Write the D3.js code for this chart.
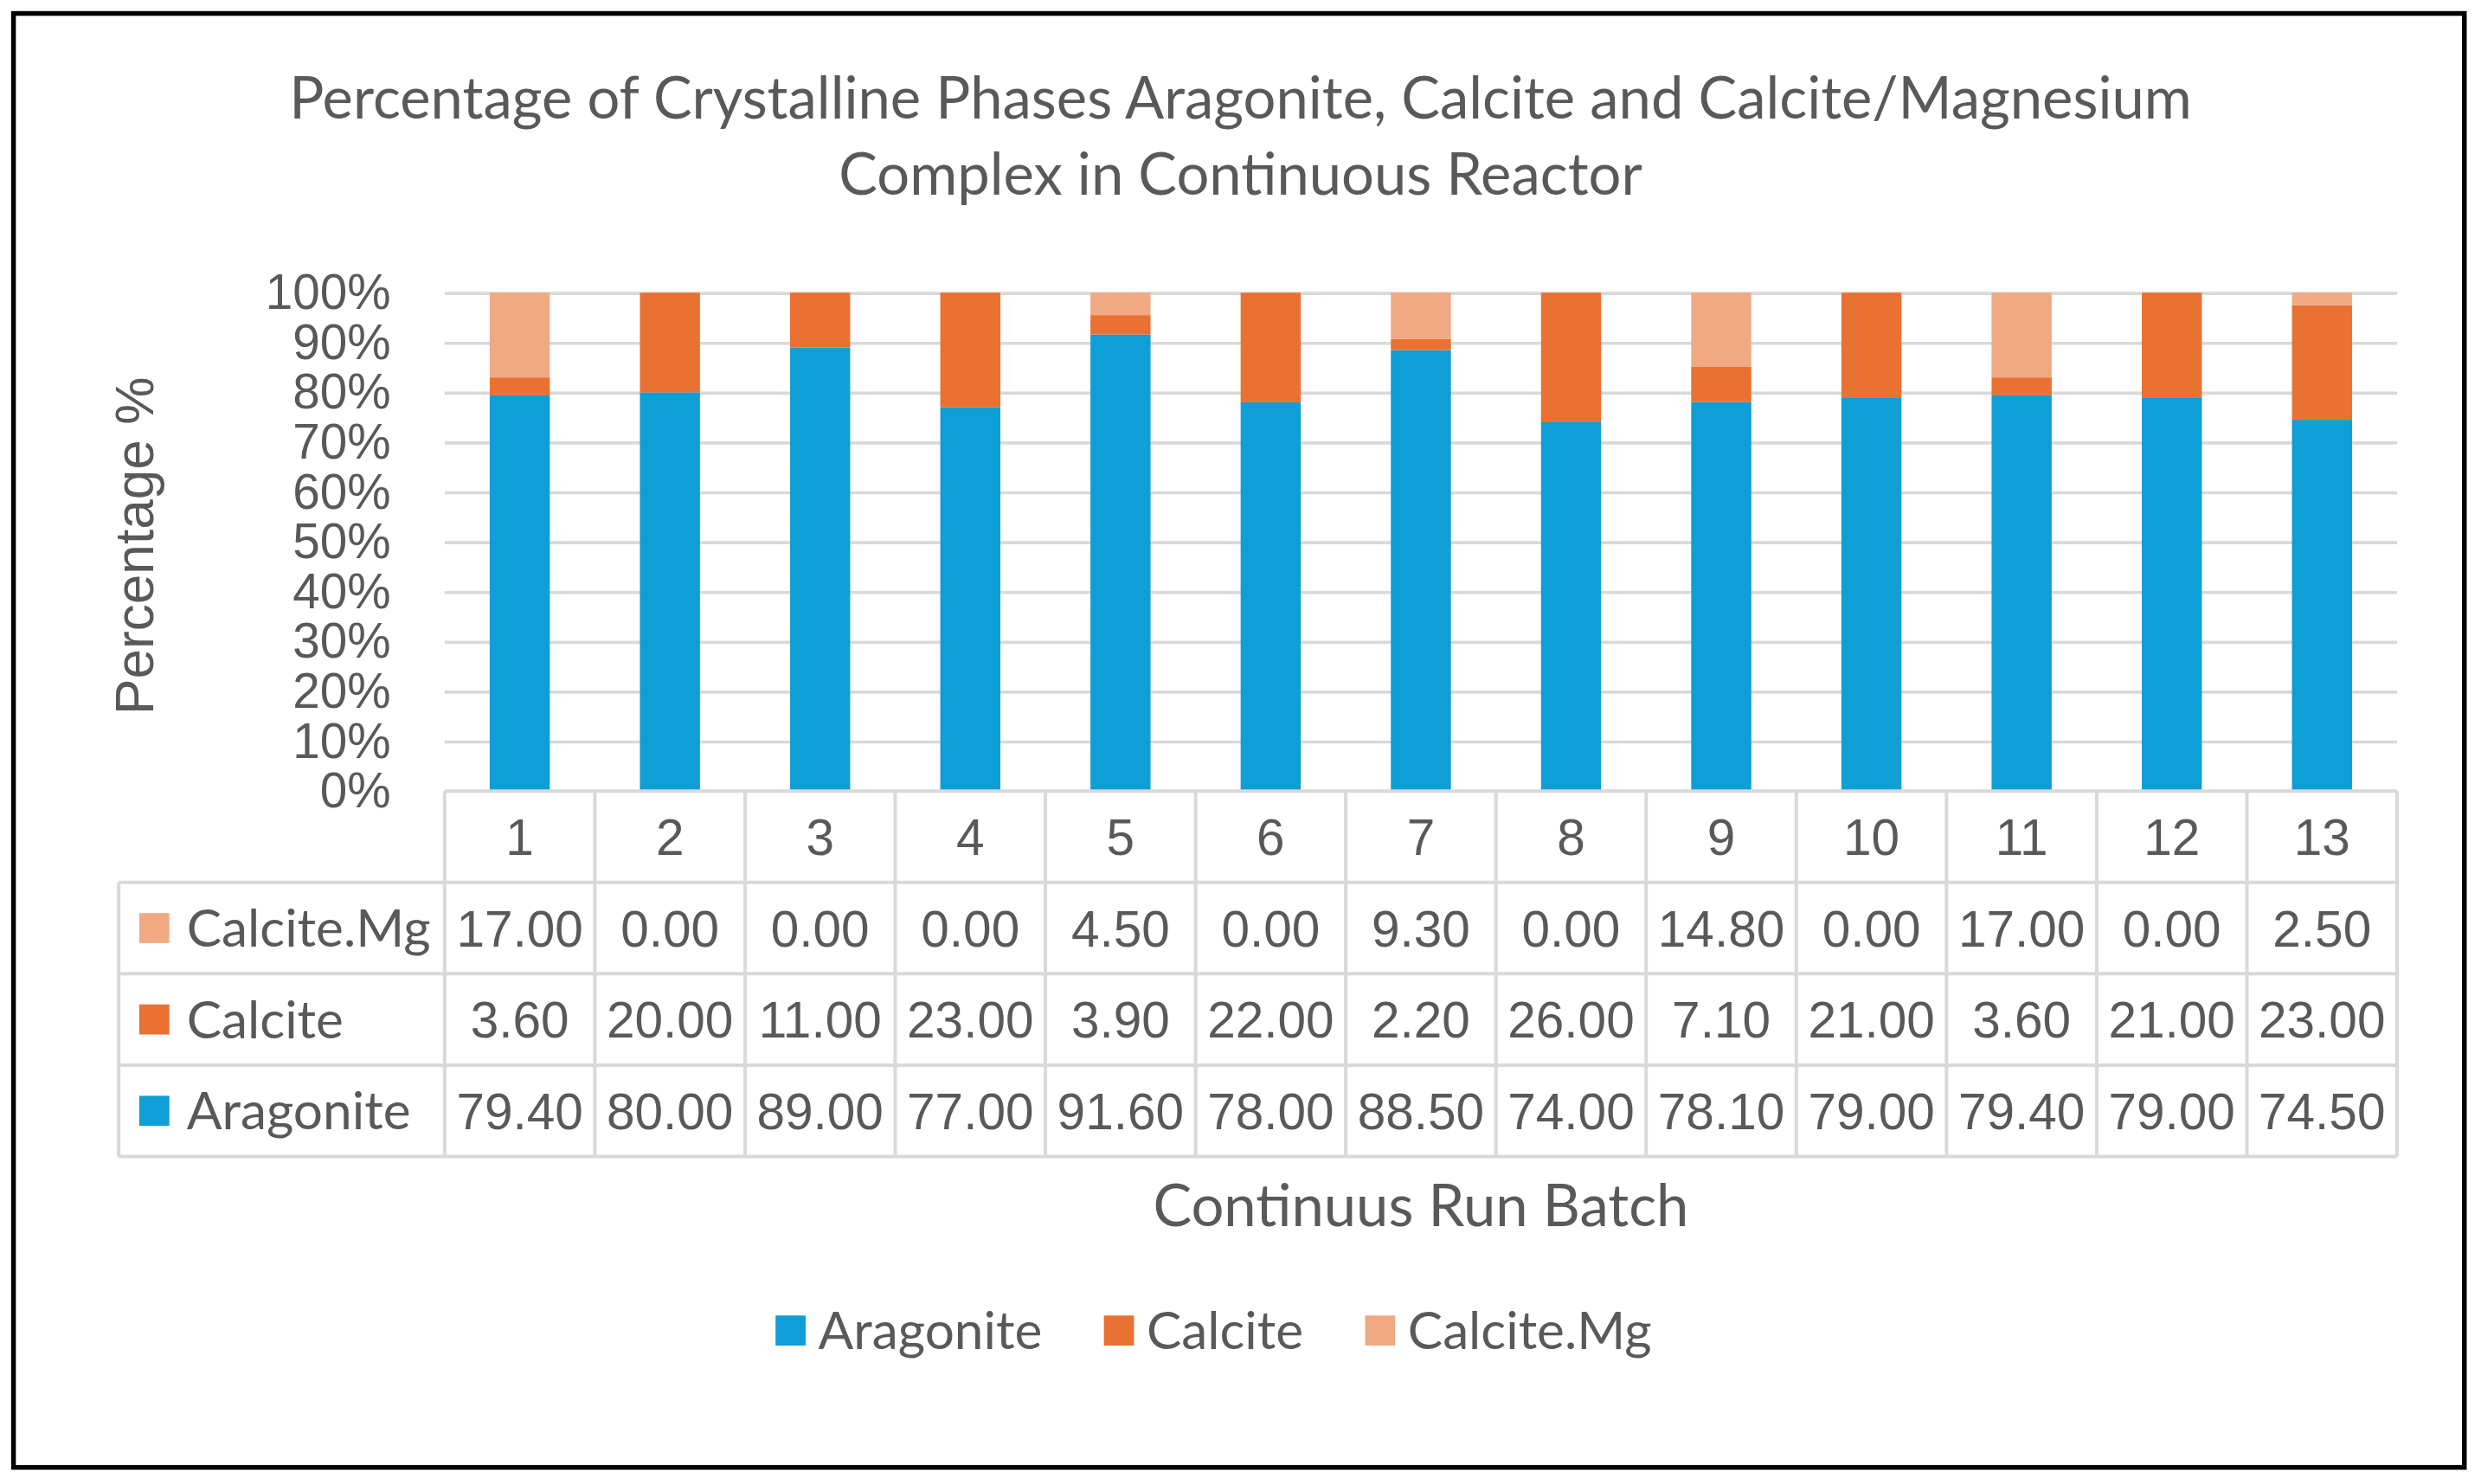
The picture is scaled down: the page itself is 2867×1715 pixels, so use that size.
<!DOCTYPE html>
<html>
<head>
<meta charset="utf-8">
<script src="https://cdn.jsdelivr.net/npm/d3@7"></script>
<style>
  body { margin: 0; background: #fff; }
  svg { display: block; }
</style>
</head>
<body>
<svg id="chart"></svg>
<script>
// Chart values.
var batches = ['1', '2', '3', '4', '5', '6', '7', '8', '9', '10', '11', '12', '13'];
var aragonite = [79.4, 80, 89, 77, 91.6, 78, 88.5, 74, 78.1, 79, 79.4, 79, 74.5];
var calcite = [3.6, 20, 11, 23, 3.9, 22, 2.2, 26, 7.1, 21, 3.6, 21, 23];
var calciteMg = [17, 0, 0, 0, 4.5, 0, 9.3, 0, 14.8, 0, 17, 0, 2.5];
var seriesNames = ['Aragonite', 'Calcite', 'Calcite.Mg'];
var seriesColors = ['#0f9ed5', '#e97132', '#f1a983'];
var yTickValues = [0, 0.1, 0.2, 0.3, 0.4, 0.5, 0.6, 0.7, 0.8, 0.9, 1];
var titleLines = [
  'Percentage of Crystalline Phases Aragonite, Calcite and Calcite/Magnesium',
  'Complex in Continuous Reactor'
];
var yTitle = 'Percentage %';
var xTitle = 'Continuus Run Batch';

// Drawing is done in the reference's own 1568x938 units, then scaled up.
var W = 1568;
var H = 938;
var TEXT = '#595959';
var GRID = '#d9d9d9';
var SANS = '"Liberation Sans", Arial, sans-serif';
var TITLE_FONT = 'Lato, "Open Sans", sans-serif';
var LABEL_SIZE = 33;

var plot = {left: 281, right: 1515, top: 185, bottom: 500};
var table = {left: 75, bottom: 731, swatchX: 88, labelX: 118};

var svg = d3.select('#chart')
  .attr('width', 2867)
  .attr('height', 1715)
  .attr('viewBox', '0 0 ' + W + ' ' + H);

svg.append('rect')
  .attr('width', W)
  .attr('height', H)
  .attr('fill', '#fff');

// outer frame
svg.append('rect')
  .attr('x', 8.5)
  .attr('y', 8.5)
  .attr('width', 1549)
  .attr('height', 919)
  .attr('fill', 'none')
  .attr('stroke', '#000')
  .attr('stroke-width', 3);

var rows = batches.map(function(b, i) {
  return {
    batch: b,
    'Aragonite': aragonite[i],
    'Calcite': calcite[i],
    'Calcite.Mg': calciteMg[i]
  };
});
var valuesBySeries = {
  'Aragonite': aragonite,
  'Calcite': calcite,
  'Calcite.Mg': calciteMg
};

var color = d3.scaleOrdinal().domain(seriesNames).range(seriesColors);

var x = d3.scaleBand()
  .domain(batches)
  .range([plot.left, plot.right])
  .paddingInner(0.6)
  .paddingOuter(0.3);

var col = d3.scaleBand()
  .domain(batches)
  .range([plot.left, plot.right]);

var y = d3.scaleLinear()
  .domain([0, 1])
  .range([plot.bottom, plot.top]);

// Title
svg.append('g')
  .selectAll('text')
  .data(titleLines)
  .join('text')
  .attr('x', 784)
  .attr('y', function(d, i) { return 75 + i * 48; })
  .attr('text-anchor', 'middle')
  .attr('font-family', TITLE_FONT)
  .attr('font-size', 36.6)
  .attr('fill', TEXT)
  .text(function(d) { return d; });

// Gridlines (0% line is the table's top border)
var grid = svg.append('g')
  .attr('transform', 'translate(' + plot.left + ',0)')
  .call(d3.axisLeft(y)
    .tickValues(yTickValues.slice(1))
    .tickSize(-(plot.right - plot.left))
    .tickFormat(''));
grid.select('.domain').remove();
grid.selectAll('line')
  .attr('stroke', GRID)
  .attr('stroke-width', 2);

// Y axis labels
var yAxis = svg.append('g')
  .attr('transform', 'translate(' + plot.left + ',0)')
  .call(d3.axisLeft(y)
    .tickValues(yTickValues)
    .tickSize(0)
    .tickPadding(34)
    .tickFormat(d3.format('.0%')));
yAxis.select('.domain').remove();
yAxis.selectAll('text')
  .attr('font-family', SANS)
  .attr('font-size', 31)
  .attr('fill', TEXT);

svg.append('text')
  .attr('transform', 'translate(97,345) rotate(-90)')
  .attr('text-anchor', 'middle')
  .attr('font-family', SANS)
  .attr('font-size', 34)
  .attr('fill', TEXT)
  .text(yTitle);

// Stacked bars
var stacked = d3.stack()
  .keys(seriesNames)
  .offset(d3.stackOffsetExpand)(rows);

svg.append('g')
  .selectAll('g')
  .data(stacked)
  .join('g')
  .attr('fill', function(d) { return color(d.key); })
  .selectAll('rect')
  .data(function(d) { return d; })
  .join('rect')
  .attr('x', function(d) { return x(d.data.batch); })
  .attr('y', function(d) { return y(d[1]); })
  .attr('width', x.bandwidth())
  .attr('height', function(d) { return y(d[0]) - y(d[1]); });

// Data table below the plot
var tableRows = seriesNames.slice().reverse();
var row = d3.scaleBand()
  .domain(['header'].concat(tableRows))
  .range([plot.bottom, table.bottom]);

var tableG = svg.append('g');
var hLines = [{y: plot.bottom, x0: plot.left}];
tableRows.forEach(function(r) {
  hLines.push({y: row(r), x0: table.left});
});
hLines.push({y: table.bottom, x0: table.left});

tableG.selectAll('line.h')
  .data(hLines)
  .join('line')
  .attr('class', 'h')
  .attr('x1', function(d) { return d.x0; })
  .attr('x2', plot.right)
  .attr('y1', function(d) { return d.y; })
  .attr('y2', function(d) { return d.y; });

var vLines = batches.map(function(b) { return col(b); })
  .concat([plot.right]);
tableG.selectAll('line.v')
  .data(vLines)
  .join('line')
  .attr('class', 'v')
  .attr('x1', function(d) { return d; })
  .attr('x2', function(d) { return d; })
  .attr('y1', plot.bottom)
  .attr('y2', table.bottom);
tableG.append('line')
  .attr('x1', table.left)
  .attr('x2', table.left)
  .attr('y1', row(tableRows[0]))
  .attr('y2', table.bottom);
tableG.selectAll('line')
  .attr('stroke', GRID)
  .attr('stroke-width', 2.2);

// header: batch numbers
tableG.append('g')
  .selectAll('text')
  .data(batches)
  .join('text')
  .attr('x', function(d) { return col(d) + col.bandwidth() / 2; })
  .attr('y', row('header') + row.bandwidth() / 2)
  .attr('dy', '0.36em')
  .attr('text-anchor', 'middle')
  .attr('font-family', SANS)
  .attr('font-size', 32)
  .attr('fill', TEXT)
  .text(function(d) { return d; });

var fmt = d3.format('.2f');
tableRows.forEach(function(name) {
  var cy = row(name) + row.bandwidth() / 2;
  var g = tableG.append('g');
  g.append('rect')
    .attr('x', table.swatchX)
    .attr('y', cy - 9.5)
    .attr('width', 19)
    .attr('height', 19)
    .attr('fill', color(name));
  g.append('text')
    .attr('x', table.labelX)
    .attr('y', cy)
    .attr('dy', '0.36em')
    .attr('font-family', TITLE_FONT)
    .attr('font-size', LABEL_SIZE)
    .attr('fill', TEXT)
    .text(name);
  g.selectAll('text.val')
    .data(valuesBySeries[name])
    .join('text')
    .attr('class', 'val')
    .attr('x', function(d, i) { return col(batches[i]) + col.bandwidth() / 2; })
    .attr('y', cy)
    .attr('dy', '0.36em')
    .attr('text-anchor', 'middle')
    .attr('font-family', SANS)
    .attr('font-size', 32)
    .attr('fill', TEXT)
    .text(function(d) { return fmt(d); });
});

// X axis title
svg.append('text')
  .attr('x', (plot.left + plot.right) / 2)
  .attr('y', 775)
  .attr('text-anchor', 'middle')
  .attr('font-family', TITLE_FONT)
  .attr('font-size', 36.6)
  .attr('fill', TEXT)
  .text(xTitle);

// Legend, laid out left to right then centred
var legend = svg.append('g');
var cursor = 0;
seriesNames.forEach(function(name) {
  var item = legend.append('g').attr('transform', 'translate(' + cursor + ',0)');
  item.append('rect')
    .attr('x', 0)
    .attr('y', -9.5)
    .attr('width', 19)
    .attr('height', 19)
    .attr('fill', color(name));
  var t = item.append('text')
    .attr('x', 27)
    .attr('dy', '0.36em')
    .attr('font-family', TITLE_FONT)
    .attr('font-size', LABEL_SIZE)
    .attr('fill', TEXT)
    .text(name);
  cursor += 27 + t.node().getComputedTextLength() + 39;
});
var legendWidth = cursor - 39;
legend.attr('transform',
  'translate(' + (767 - legendWidth / 2) + ',841)');
</script>
</body>
</html>
